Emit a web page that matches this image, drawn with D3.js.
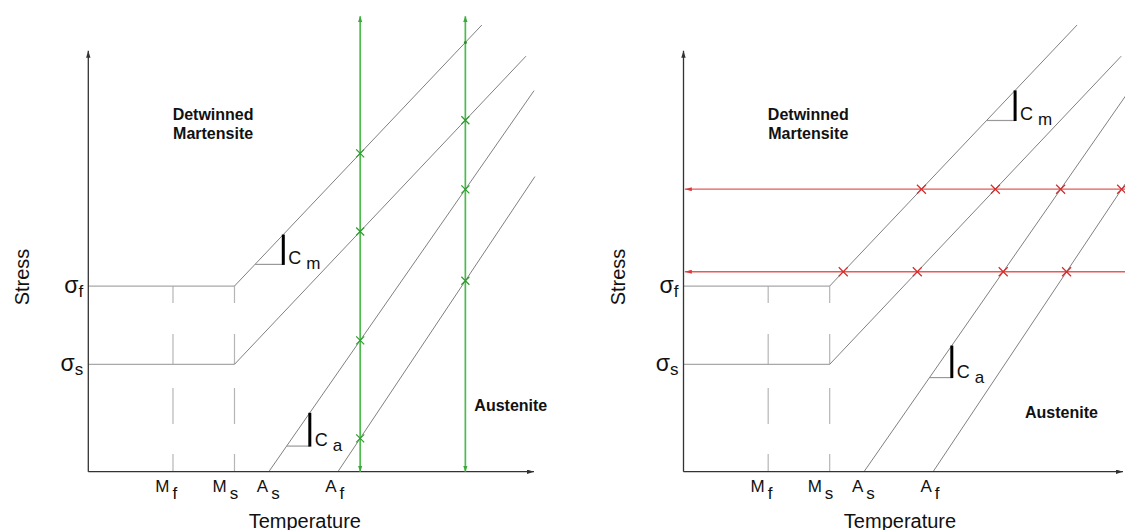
<!DOCTYPE html>
<html>
<head>
<meta charset="utf-8">
<script src="https://cdn.jsdelivr.net/npm/d3@7"></script>
<style>
  body { margin: 0; background: #fff; }
  svg { display: block; }
  text { font-family: "Liberation Sans", Arial, sans-serif; fill: #111; }
</style>
</head>
<body>
<svg id="chart" width="1125" height="530"></svg>
<script>
// Transformation temperatures on the temperature axis: Mf, Ms, As, Af
const tempMarks = [19.0, 32.8, 40.5, 56.0];
const tempMain = ["M", "M", "A", "A"];
const tempSub = ["f", "s", "s", "f"];

// Critical detwinning stresses: σs, σf
const stressMarks = [25.5, 44.1];
const stressSub = ["s", "f"];

// Phase boundaries (temperature, stress) from start to end point:
// σf line, σs line, As line, Af line
const boundaryT0 = [32.8, 32.8, 40.5, 56.0];
const boundaryS0 = [44.1, 25.5, 0.0, 0.0];
const boundaryT1 = [88.3, 98.2, 100.0, 100.2];
const boundaryS1 = [106.1, 98.7, 90.5, 70.1];

// Isothermal loading paths (left diagram), temperatures
const loadTemps = [61.0, 84.6];
const loadTop = 108.2;
// Constant-stress cooling paths (right diagram), stresses
const coolStresses = [67.1, 47.5];

// Slope markers: boundary index, start and end temperature, label subscript
const slopeLine = [0, 2];
const slopeSub = ["m", "a"];
const slopeLeftT0 = [37.4, 44.5];
const slopeLeftT1 = [43.75, 49.7];
const slopeRightT0 = [68.0, 55.2];
const slopeRightT1 = [74.4, 60.2];

// Region labels
const regionTop = ["Detwinned", "Martensite"];
const regionBottom = "Austenite";

// ---- layout ----
const svg = d3.select("#chart");
const plotW = 445.7, yBottom = 471.7, yTop = 50.7;
const panels = [
  { ox: 88.3, axisEnd: 100, austT: 94.8, austS: 14.3 },
  { ox: 683.5, axisEnd: 98.6, austT: 84.8, austS: 12.8 }
];
const labelStart = [-17.7, -22, -12, -12.7];

const defs = svg.append("defs");
function marker(id, color, len, wid) {
  defs.append("marker")
    .attr("id", id)
    .attr("viewBox", `0 ${-wid} ${len} ${2 * wid}`)
    .attr("refX", len).attr("refY", 0)
    .attr("markerUnits", "userSpaceOnUse")
    .attr("markerWidth", len).attr("markerHeight", 2 * wid)
    .attr("orient", "auto-start-reverse")
    .append("path")
    .attr("d", `M0,${-wid}L${len},0L0,${wid}Z`)
    .attr("fill", color);
}
marker("arrAxis", "#333", 7, 2.2);
marker("arrGreen", "#3aa83a", 6, 2.2);
marker("arrRed", "#d83a3a", 7, 2);

function stressAtT(i, T) {
  if (T < boundaryT0[i] || T > boundaryT1[i]) return null;
  return boundaryS0[i] + (boundaryS1[i] - boundaryS0[i]) * (T - boundaryT0[i]) / (boundaryT1[i] - boundaryT0[i]);
}
function tempAtS(i, S) {
  if (S < boundaryS0[i] || S > boundaryS1[i]) return null;
  return boundaryT0[i] + (boundaryT1[i] - boundaryT0[i]) * (S - boundaryS0[i]) / (boundaryS1[i] - boundaryS0[i]);
}
function cross(g, px, py, r, color) {
  g.append("path")
    .attr("d", `M${px - r},${py - r}L${px + r},${py + r}M${px - r},${py + r}L${px + r},${py - r}`)
    .attr("stroke", color).attr("stroke-width", 1.2).attr("fill", "none");
}

panels.forEach((p, pi) => {
  const x = d3.scaleLinear().domain([0, 100]).range([p.ox, p.ox + plotW]);
  const y = d3.scaleLinear().domain([0, 100]).range([yBottom, yTop]);
  const g = svg.append("g");

  // dashed guides below Mf and Ms
  [tempMarks[0], tempMarks[1]].forEach(T => {
    g.append("line")
      .attr("x1", x(T)).attr("x2", x(T))
      .attr("y1", y(stressMarks[1])).attr("y2", y(0))
      .attr("stroke", "#b5b5b5").attr("stroke-width", 1.2)
      .attr("stroke-dasharray", "17,31,30,24,36,30,18");
  });

  // stress plateaus below Ms
  [0, 1].forEach(i => {
    g.append("line")
      .attr("x1", x(0)).attr("x2", x(boundaryT0[i]))
      .attr("y1", y(boundaryS0[i])).attr("y2", y(boundaryS0[i]))
      .attr("stroke", "#a8a8a8").attr("stroke-width", 1.3);
  });

  // phase boundaries
  boundaryT0.forEach((t0, i) => {
    g.append("line")
      .attr("x1", x(t0)).attr("y1", y(boundaryS0[i]))
      .attr("x2", x(boundaryT1[i])).attr("y2", y(boundaryS1[i]))
      .attr("stroke", "#606060").attr("stroke-width", 0.8);
  });

  // axes
  g.append("line")
    .attr("x1", x(0)).attr("y1", y(0)).attr("x2", x(0)).attr("y2", y(100))
    .attr("stroke", "#333").attr("stroke-width", 1.3).attr("marker-end", "url(#arrAxis)");
  g.append("line")
    .attr("x1", x(0)).attr("y1", y(0)).attr("x2", x(p.axisEnd)).attr("y2", y(0))
    .attr("stroke", "#333").attr("stroke-width", 1.3).attr("marker-end", "url(#arrAxis)");

  // loading paths with crossing points
  if (pi === 0) {
    loadTemps.forEach(T => {
      g.append("line")
        .attr("x1", x(T)).attr("y1", y(0)).attr("x2", x(T)).attr("y2", y(loadTop))
        .attr("stroke", "#4cbb4c").attr("stroke-width", 1.7)
        .attr("marker-start", "url(#arrGreen)").attr("marker-end", "url(#arrGreen)");
      boundaryT0.forEach((_, i) => {
        const S = stressAtT(i, T);
        if (S === null) return;
        if (S <= 100) cross(g, x(T), y(S), 4, "#2e9a2e");
        else g.append("circle").attr("cx", x(T)).attr("cy", y(S)).attr("r", 1.5).attr("fill", "#2e8a2e");
      });
    });
  } else {
    coolStresses.forEach(S => {
      g.append("line")
        .attr("x1", x(101)).attr("y1", y(S)).attr("x2", x(0.3)).attr("y2", y(S))
        .attr("stroke", "#e65a5a").attr("stroke-width", 1.3)
        .attr("marker-end", "url(#arrRed)");
      boundaryT0.forEach((_, i) => {
        const T = tempAtS(i, S);
        if (T === null) return;
        cross(g, x(T), y(S), 4.5, "#d02c2c");
      });
    });
  }

  // slope markers
  const sT0 = pi === 0 ? slopeLeftT0 : slopeRightT0;
  const sT1 = pi === 0 ? slopeLeftT1 : slopeRightT1;
  slopeLine.forEach((li, k) => {
    const sBase = stressAtT(li, sT0[k]);
    const sTop = stressAtT(li, sT1[k]);
    g.append("line")
      .attr("x1", x(sT0[k])).attr("x2", x(sT1[k]))
      .attr("y1", y(sBase)).attr("y2", y(sBase))
      .attr("stroke", "#999").attr("stroke-width", 1.2);
    g.append("line")
      .attr("x1", x(sT1[k])).attr("x2", x(sT1[k]))
      .attr("y1", y(sBase) + 0.5).attr("y2", y(sTop))
      .attr("stroke", "#000").attr("stroke-width", 3);
    const t = g.append("text")
      .attr("x", x(sT1[k]) + 5).attr("y", y(sBase))
      .attr("font-size", 18);
    t.append("tspan").text("C");
    t.append("tspan").attr("dx", 5).attr("dy", 5).attr("font-size", 17).text(slopeSub[k]);
  });

  // temperature tick labels
  tempMarks.forEach((T, i) => {
    const t = g.append("text")
      .attr("x", x(T) + labelStart[i]).attr("y", 491.7)
      .attr("font-size", 17);
    t.append("tspan").text(tempMain[i]);
    t.append("tspan").attr("dx", 3).attr("dy", 7.5).text(tempSub[i]);
  });

  // stress tick labels
  stressMarks.forEach((S, i) => {
    const t = g.append("text")
      .attr("x", x(0) - 5).attr("y", y(S) + 7)
      .attr("text-anchor", "end");
    t.append("tspan").attr("font-size", 23).text("σ");
    t.append("tspan").attr("font-size", 17).attr("dy", 4).text(stressSub[i]);
  });

  // axis titles
  g.append("text")
    .attr("transform", `translate(${x(0) - 59},277) rotate(-90)`)
    .attr("text-anchor", "middle").attr("font-size", 20)
    .text("Stress");
  g.append("text")
    .attr("x", x(0) + 216.5).attr("y", 527.5)
    .attr("text-anchor", "middle").attr("font-size", 20)
    .text("Temperature");

  // region labels
  regionTop.forEach((line, i) => {
    g.append("text")
      .attr("x", x(28)).attr("y", 120 + i * 19.3)
      .attr("text-anchor", "middle").attr("font-size", 16).attr("font-weight", "bold")
      .text(line);
  });
  g.append("text")
    .attr("x", x(p.austT)).attr("y", y(p.austS))
    .attr("text-anchor", "middle").attr("font-size", 16).attr("font-weight", "bold")
    .text(regionBottom);
});
</script>
</body>
</html>
